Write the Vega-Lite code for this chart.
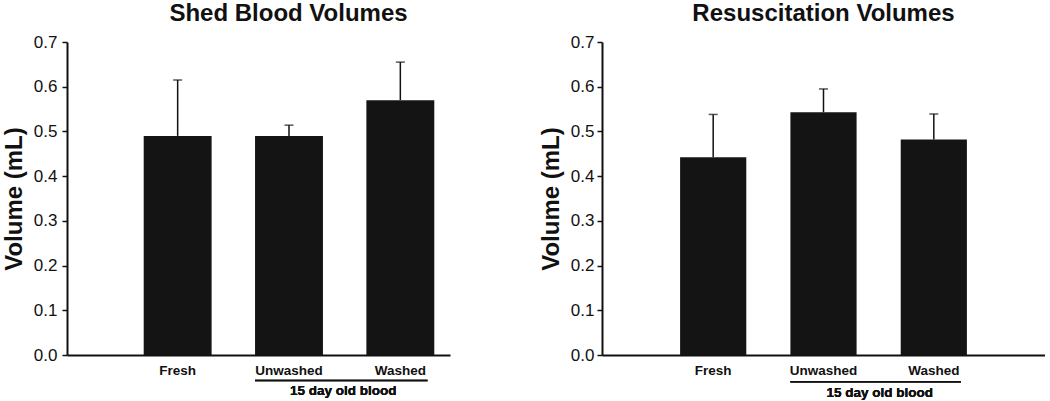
{
  "$schema": "https://vega.github.io/schema/vega-lite/v6.json",
  "background": "white",
  "padding": {"left": 2, "top": 2, "right": 0, "bottom": 0},
  "spacing": 89,
  "config": {
    "view": {"stroke": null},
    "font": "Liberation Sans",
    "title": {"font": "Liberation Sans", "fontSize": 24, "fontWeight": "bold", "color": "#111", "offset": 7, "baseline": "bottom"},
    "axis": {"domainColor": "#111", "domainWidth": 2, "tickColor": "#111", "labelColor": "#111", "titleColor": "#111", "grid": false, "labelFont": "Liberation Sans", "titleFont": "Liberation Sans"}
  },
  "datasets": {
    "shed": [
      {"group": "Fresh", "mean": 0.49, "upper": 0.615},
      {"group": "Unwashed", "mean": 0.49, "upper": 0.514},
      {"group": "Washed", "mean": 0.57, "upper": 0.655}
    ],
    "resus": [
      {"group": "Fresh", "mean": 0.442, "upper": 0.538},
      {"group": "Unwashed", "mean": 0.543, "upper": 0.595},
      {"group": "Washed", "mean": 0.482, "upper": 0.539}
    ]
  },
  "hconcat": [
    {
      "title": {"text": "Shed Blood Volumes", "dx": 30},
      "width": 383,
      "height": 313,
      "data": {"name": "shed"},
      "encoding": {
        "x": {"field": "group", "type": "nominal", "sort": null,
          "scale": {"domain": ["Fresh", "Unwashed", "Washed"], "paddingInner": 0.39, "paddingOuter": 0.415, "align": 0.83},
          "axis": {"title": null, "labelAngle": 0, "ticks": false, "labelPadding": 8, "labelFontSize": 13.5, "labelFontWeight": "bold"}},
        "y": {"type": "quantitative",
          "scale": {"domain": [0, 0.7], "nice": false, "zero": false},
          "axis": {"title": "Volume (mL)", "values": [0, 0.1, 0.2, 0.3, 0.4, 0.5, 0.6, 0.7], "format": ".1f", "tickSize": 5, "tickWidth": 1.5, "labelPadding": 5, "labelFontSize": 17, "titleFontSize": 24, "titleFontWeight": "bold", "titlePadding": 7}}
      },
      "layer": [
        {"mark": {"type": "rule", "color": "#111", "strokeWidth": 1.5}, "encoding": {"y": {"field": "mean"}, "y2": {"field": "upper"}}},
        {"mark": {"type": "tick", "orient": "horizontal", "color": "#111", "size": 9, "thickness": 1.5}, "encoding": {"y": {"field": "upper"}}},
        {"mark": {"type": "bar", "color": "#141414"}, "encoding": {"y": {"field": "mean"}}},
        {"mark": {"type": "rule", "color": "#111", "strokeWidth": 1.5},
          "encoding": {"x": {"datum": "Unwashed", "bandPosition": 0}, "x2": {"datum": "Washed", "bandPosition": 0.9}, "y": {"datum": -0.057}}},
        {"mark": {"type": "text", "color": "#111", "fontSize": 13.5, "fontWeight": "bold", "baseline": "middle", "align": "center", "text": "15 day old blood"},
          "encoding": {"x": {"datum": "Unwashed", "bandPosition": 1.3}, "y": {"datum": -0.081}}}
      ]
    },
    {
      "title": {"text": "Resuscitation Volumes"},
      "width": 443,
      "height": 313,
      "data": {"name": "resus"},
      "encoding": {
        "x": {"field": "group", "type": "nominal", "sort": null,
          "scale": {"domain": ["Fresh", "Unwashed", "Washed"], "paddingInner": 0.4, "paddingOuter": 0.708, "align": 0.5},
          "axis": {"title": null, "labelAngle": 0, "ticks": false, "labelPadding": 8, "labelFontSize": 13.5, "labelFontWeight": "bold"}},
        "y": {"type": "quantitative",
          "scale": {"domain": [0, 0.7], "nice": false, "zero": false},
          "axis": {"title": "Volume (mL)", "values": [0, 0.1, 0.2, 0.3, 0.4, 0.5, 0.6, 0.7], "format": ".1f", "tickSize": 5, "tickWidth": 1.5, "labelPadding": 3, "labelFontSize": 17, "titleFontSize": 24, "titleFontWeight": "bold", "titlePadding": 7}}
      },
      "layer": [
        {"mark": {"type": "rule", "color": "#111", "strokeWidth": 1.5}, "encoding": {"y": {"field": "mean"}, "y2": {"field": "upper"}}},
        {"mark": {"type": "tick", "orient": "horizontal", "color": "#111", "size": 9, "thickness": 1.5}, "encoding": {"y": {"field": "upper"}}},
        {"mark": {"type": "bar", "color": "#141414"}, "encoding": {"y": {"field": "mean"}}},
        {"mark": {"type": "rule", "color": "#111", "strokeWidth": 1.5},
          "encoding": {"x": {"datum": "Unwashed", "bandPosition": 0}, "x2": {"datum": "Washed", "bandPosition": 0.91}, "y": {"datum": -0.06}}},
        {"mark": {"type": "text", "color": "#111", "fontSize": 13.5, "fontWeight": "bold", "baseline": "middle", "align": "center", "text": "15 day old blood"},
          "encoding": {"x": {"datum": "Unwashed", "bandPosition": 1.35}, "y": {"datum": -0.084}}}
      ]
    }
  ]
}
